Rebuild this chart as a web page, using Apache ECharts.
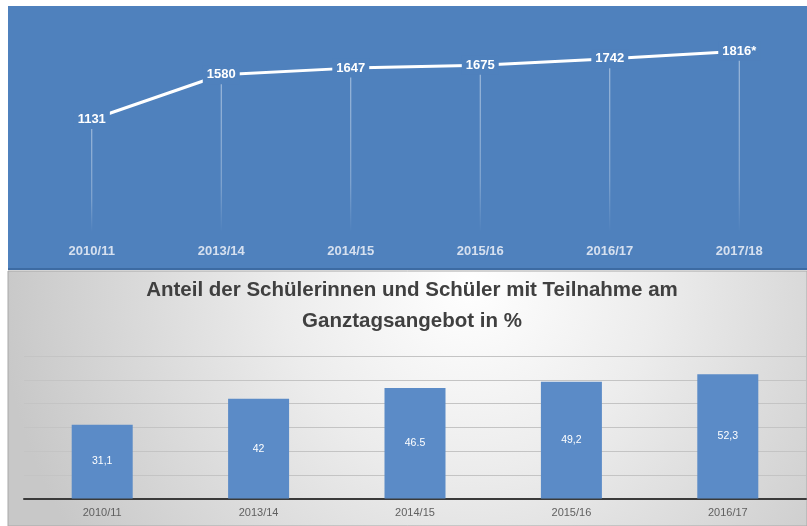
<!DOCTYPE html>
<html>
<head>
<meta charset="utf-8">
<script src="https://cdn.jsdelivr.net/npm/echarts@6/dist/echarts.min.js"></script>
<style>html,body{margin:0;padding:0;background:#fff}#c{width:807px;height:526px}</style>
</head>
<body>
<div id="c"></div>
<script>
// Top chart (line)
const lineCategories = ['2010/11', '2013/14', '2014/15', '2015/16', '2016/17', '2017/18'];
const lineValues = [1131, 1580, 1647, 1675, 1742, 1816];
const lineLabelSuffix = ['', '', '', '', '', '*'];

// Bottom chart: share in %
const barCategories = ['2010/11', '2013/14', '2014/15', '2015/16', '2016/17'];
const barValues = [31.1, 42, 46.5, 49.2, 52.3];
const barLabels = ['31,1', '42', '46.5', '49,2', '52,3'];

const titleLine1 = 'Anteil der Schülerinnen und Schüler mit Teilnahme am';
const titleLine2 = 'Ganztagsangebot in %';

const BLUE = '#4f81bd';
const chart = echarts.init(document.getElementById('c'), null, {renderer: 'canvas'});
const FONT = 'Liberation Sans, Arial, sans-serif';

chart.setOption({
  backgroundColor: '#ffffff',
  animation: false,
  graphic: [
    {type: 'rect', z: -10, silent: true, shape: {x: 8, y: 6, width: 799, height: 264},
     style: {fill: BLUE}},
    {type: 'rect', z: -9, silent: true, shape: {x: 8, y: 268, width: 799, height: 2},
     style: {fill: '#3d6ba3'}},
    {type: 'rect', z: -10, silent: true, shape: {x: 8, y: 271, width: 799, height: 255},
     style: {
       fill: new echarts.graphic.RadialGradient(470, 285, 470, [
         {offset: 0, color: '#ffffff'},
         {offset: 0.4, color: '#ececec'},
         {offset: 1, color: '#c8c8c8'}
       ], true),
       stroke: '#a8a8a8', lineWidth: 1
     }},
    {type: 'text', z: 10, silent: true, x: 412, y: 290,
     style: {text: titleLine1, fill: '#404040', font: 'bold 20.5px ' + FONT, align: 'center', verticalAlign: 'middle'}},
    {type: 'text', z: 10, silent: true, x: 412, y: 321,
     style: {text: titleLine2, fill: '#404040', font: 'bold 20.5px ' + FONT, align: 'center', verticalAlign: 'middle'}}
  ],
  grid: [
    {left: 27, width: 777, top: 33, height: 199},
    {left: 24, width: 782, top: 356, height: 142.5}
  ],
  xAxis: [
    {type: 'category', gridIndex: 0, data: lineCategories, boundaryGap: true,
     axisLine: {show: false}, axisTick: {show: false}, splitLine: {show: false},
     axisLabel: {color: '#d6e0ef', fontSize: 13, fontWeight: 'bold', fontFamily: FONT, margin: 13}},
    {type: 'category', gridIndex: 1, data: barCategories, boundaryGap: true,
     axisLine: {show: true, lineStyle: {color: '#3a3a3a', width: 2}},
     axisTick: {show: false},
     axisLabel: {color: '#606060', fontSize: 11, fontFamily: FONT, margin: 9}}
  ],
  yAxis: [
    {type: 'value', gridIndex: 0, min: 0, max: 2000, show: false, splitLine: {show: false}},
    {type: 'value', gridIndex: 1, min: 0, max: 60, interval: 10,
     axisLine: {show: false}, axisTick: {show: false}, axisLabel: {show: false},
     splitLine: {show: true, lineStyle: {color: '#c4c4c4', width: 1}}}
  ],
  series: [
    {type: 'bar', xAxisIndex: 0, yAxisIndex: 0, data: lineValues, barWidth: 1, z: 1,
     itemStyle: {color: new echarts.graphic.LinearGradient(0, 0, 0, 1, [
       {offset: 0, color: 'rgba(255,255,255,0.55)'},
       {offset: 0.7, color: 'rgba(255,255,255,0.35)'},
       {offset: 1, color: 'rgba(255,255,255,0.0)'}
     ])}},
    {type: 'line', xAxisIndex: 0, yAxisIndex: 0, data: lineValues, z: 3,
     symbol: 'circle', symbolSize: 1, showSymbol: true,
     itemStyle: {color: 'rgba(255,255,255,0)'},
     lineStyle: {color: '#ffffff', width: 3},
     label: {show: true, position: 'inside', color: '#ffffff', fontWeight: 'bold',
       fontSize: 13, fontFamily: FONT, backgroundColor: BLUE, padding: [3, 4],
       formatter: p => p.value + lineLabelSuffix[p.dataIndex]}},
    {type: 'bar', xAxisIndex: 1, yAxisIndex: 1, data: barValues, barWidth: 61,
     itemStyle: {color: '#5b8bc7'},
     label: {show: true, position: 'inside', color: '#ffffff', fontSize: 10.5, fontFamily: FONT,
       formatter: p => barLabels[p.dataIndex]}}
  ]
});
</script>
</body>
</html>
